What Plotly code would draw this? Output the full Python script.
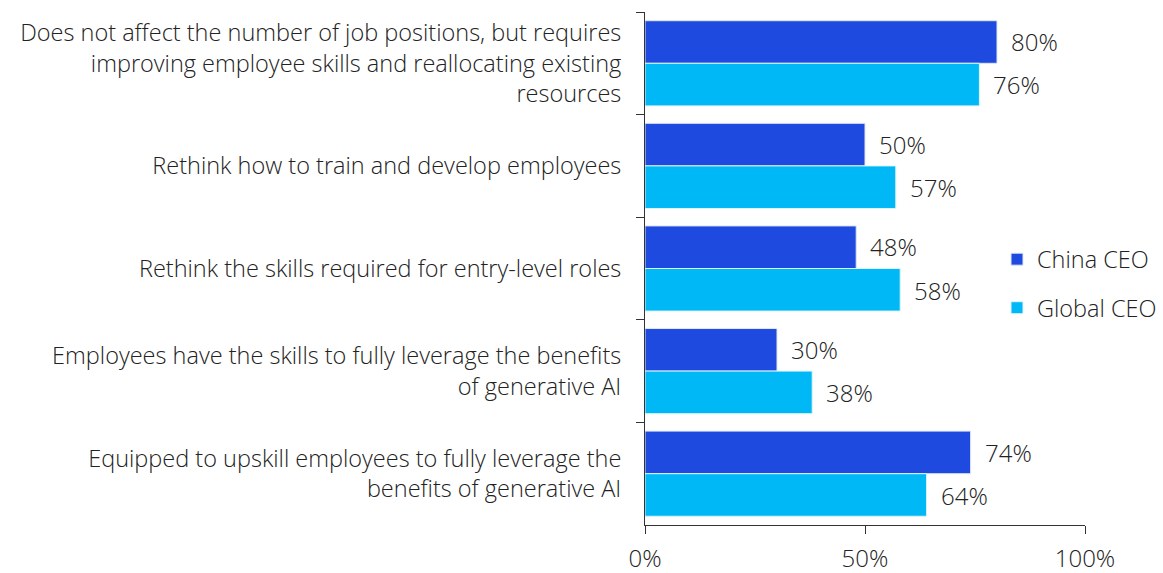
import plotly.graph_objects as go

categories = [
    "Does not affect the number of job positions, but requires<br>improving employee skills and reallocating existing<br>resources",
    "Rethink how to train and develop employees",
    "Rethink the skills required for entry-level roles",
    "Employees have the skills to fully leverage the benefits<br>of generative AI",
    "Equipped to upskill employees to fully leverage the<br>benefits of generative AI",
]
china_ceo = [80, 50, 48, 30, 74]
global_ceo = [76, 57, 58, 38, 64]
x_ticks = [0, 50, 100]
x_tick_labels = ["0%", "50%", "100%"]

DARK = "#1f4ae0"
LIGHT = "#00b8f5"
FONT = "Open Sans"
TEXT = "#222222"
SIZE = 23.5
VAL_SIZE = 24

fig = go.Figure()
fig.add_trace(go.Bar(
    y=categories, x=china_ceo, name="China CEO", orientation="h",
    legendgroup="china",
    marker=dict(color=DARK, line=dict(color="#dfe6f7", width=1)),
))
fig.add_trace(go.Bar(
    y=categories, x=global_ceo, name="Global CEO", orientation="h",
    legendgroup="global",
    marker=dict(color=LIGHT, line=dict(color="#dff4fd", width=1)),
))

# value labels to the right of each bar
for i, (c, g) in enumerate(zip(china_ceo, global_ceo)):
    for val, off in ((c, -0.21), (g, 0.21)):
        fig.add_annotation(
            x=val, y=i + off, text=f"{val}%", showarrow=False,
            xanchor="left", yanchor="middle", xshift=12,
            font=dict(family=FONT, size=VAL_SIZE, color=TEXT, weight=300),
        )

fig.update_layout(
    width=1163, height=573,
    margin=dict(l=645, r=78, t=12, b=48, autoexpand=False),
    paper_bgcolor="white", plot_bgcolor="white",
    barmode="group", bargap=0.17, bargroupgap=0.0,
    font=dict(family=FONT, size=SIZE, color=TEXT, weight=300),
    showlegend=True,
    legend=dict(
        x=0.80, y=0.47, xanchor="left", yanchor="middle",
        font=dict(family=FONT, size=SIZE, color=TEXT, weight=300),
        itemwidth=30, traceorder="grouped", tracegroupgap=15,
        bgcolor="rgba(0,0,0,0)",
    ),
    xaxis=dict(
        range=[0, 100], tickvals=x_ticks, ticktext=x_tick_labels,
        showgrid=False, zeroline=False, showline=True, linecolor="#333333",
        linewidth=1, ticks="outside", ticklen=8, tickcolor="#333333",
        ticklabelstandoff=4,
        tickfont=dict(family=FONT, size=VAL_SIZE, color=TEXT, weight=300),
    ),
    yaxis=dict(
        autorange="reversed", showgrid=False, zeroline=False,
        showline=True, linecolor="#333333", linewidth=1,
        ticks="outside", tickson="boundaries", ticklen=8, tickcolor="#333333",
        ticklabelstandoff=18,
        tickfont=dict(family=FONT, size=SIZE, color=TEXT, weight=300),
    ),
)

fig.write_html("out.html")
